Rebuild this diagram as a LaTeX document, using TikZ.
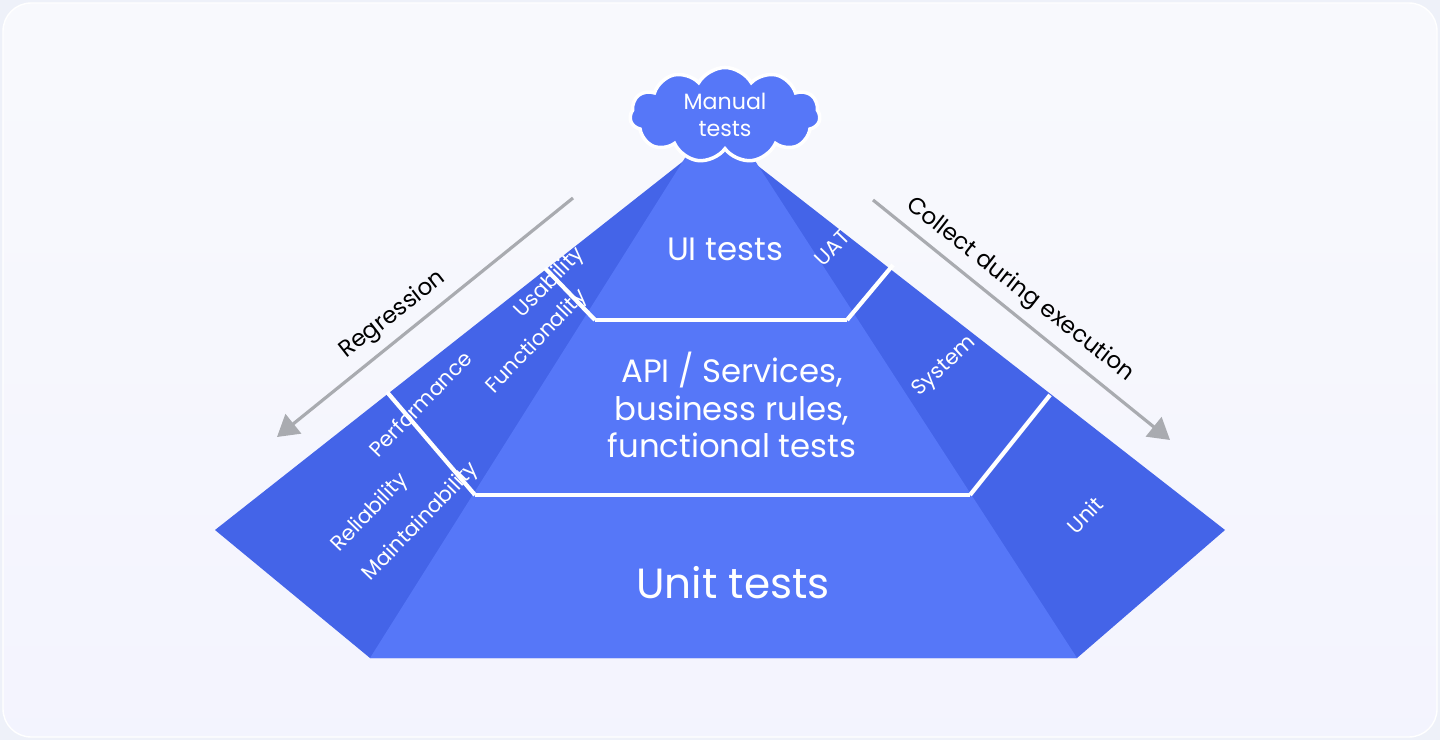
\documentclass[tikz,border=0pt]{standalone}
\usepackage{fontspec}
\setmainfont{Poppins}
\usetikzlibrary{arrows.meta,shapes.symbols}
\definecolor{colorBg}{HTML}{EEF1F9}
\definecolor{colorSide}{HTML}{4464E8}
\definecolor{colorFront}{HTML}{5677F8}
\definecolor{colorArrow}{HTML}{A9ABB0}

\begin{document}
\begin{tikzpicture}[x=0.01cm,y=-0.01cm,every node/.append style={align=center,text=white,inner sep=1pt},
    big/.style={font=\fontsize{9.2}{10.6}\selectfont},
    huge/.style={font=\fontsize{12}{13}\selectfont},
    side/.style={font=\fontsize{6}{6.5}\selectfont,rotate=46},
    note/.style={font=\fontsize{6.6}{7}\selectfont,text=black},
    gap/.style={draw=white,line width=1.2pt},
    flow/.style={draw=colorArrow,line width=0.9pt,-{Triangle[length=6pt,width=7pt]}}]
    \useasboundingbox (0,0) rectangle (1440,740);
    % background
    \fill[colorBg] (0,0) rectangle (1440,740);
    \shade[top color=white!60!colorBg,bottom color=colorBg!80!blue!18,draw=white,rounded corners=8pt] (3,3) rectangle (1437,737);
    % pyramid
    \fill[colorSide] (215,530) -- (700,148) -- (735,148) -- (1225,530) -- (1077,658) -- (370,658) -- cycle;
    \fill[colorFront] (690,150) -- (748,150) -- (1077,658) -- (370,658) -- cycle;
    \draw[gap] (595,320) -- (847,320);
    \draw[gap] (475,495) -- (970,495);
    \draw[gap] (545,268) -- (595,320);
    \draw[gap] (387,392) -- (475,495);
    \draw[gap] (893,265) -- (847,320);
    \draw[gap] (1050,395) -- (970,495);
    % cloud
    \node[cloud,cloud puffs=11,cloud puff arc=120,aspect=2,fill=colorFront,draw=white,line width=1pt,minimum width=1.9cm,minimum height=0.95cm,inner sep=0pt,font=\fontsize{6.3}{7.5}\selectfont] (manual) at (725,115) {Manual\\tests};
    % front labels
    \node[big] (ui) at (725,249) {UI tests};
    \node[big] (api) at (732,405) {API / Services,\\business rules,\\functional tests};
    \node[huge] (unit) at (733,583) {Unit tests};
    % side labels
    \node[side] (usab) at (550,283) {Usability};
    \node[side] (func) at (537,342) {Functionality};
    \node[side] (perf) at (420,404) {Performance};
    \node[side] (reli) at (370,513) {Reliability};
    \node[side] (main) at (421,522) {Maintainability};
    \node[side] (uat) at (832,248) {UAT};
    \node[side,rotate=-3] (sys) at (945,367) {System};
    \node[side] (unitside) at (1085,515) {Unit};
    % arrows
    \coordinate (regA) at (573,198);
    \coordinate (regB) at (277,437);
    \coordinate (colA) at (873,200);
    \coordinate (colB) at (1170,440);
    \path[flow] (regA) -- (regB);
    \path[flow] (colA) -- (colB);
    \node[note,rotate=38] (reg) at (393,315) {Regression};
    \node[note,rotate=-38] (col) at (1020,290) {Collect during execution};
\end{tikzpicture}
\end{document}
